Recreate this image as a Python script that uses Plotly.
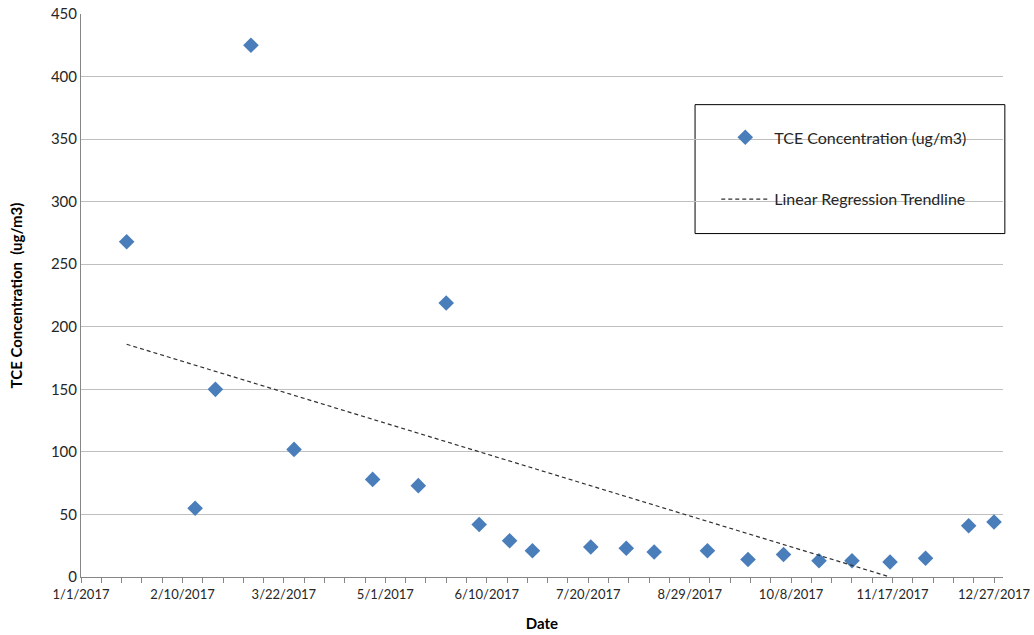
import plotly.graph_objects as go

dates = ["2017-01-19", "2017-02-15", "2017-02-23", "2017-03-09", "2017-03-26",
         "2017-04-26", "2017-05-14", "2017-05-25", "2017-06-07", "2017-06-19",
         "2017-06-28", "2017-07-21", "2017-08-04", "2017-08-15", "2017-09-05",
         "2017-09-21", "2017-10-05", "2017-10-19", "2017-11-01", "2017-11-16",
         "2017-11-30", "2017-12-17", "2017-12-27"]
tce = [268, 55, 150, 425, 102, 78, 73, 219, 42, 29, 21, 24, 23, 20, 21,
       14, 18, 13, 13, 12, 15, 41, 44]

trend_dates = ["2017-01-19", "2017-11-16"]
trend_values = [186, 0]

series_name = "TCE Concentration (ug/m3)"
trend_name = "Linear Regression Trendline"

fig = go.Figure()
fig.add_trace(go.Scatter(
    x=dates, y=tce, mode="markers", name=series_name, legendgroup="a",
    marker=dict(symbol="diamond", size=12, color="#4a7ebb"),
    cliponaxis=False,
))
fig.add_trace(go.Scatter(
    x=trend_dates, y=trend_values, mode="lines", name=trend_name, legendgroup="b",
    line=dict(color="#303030", width=1.2, dash="4px,3px"),
))

grid = "#bfbfbf"
DAY = 86400000
fig.update_layout(
    width=1034, height=635,
    margin=dict(l=81, r=31, t=14, b=58, autoexpand=False),
    paper_bgcolor="white", plot_bgcolor="white",
    font=dict(family="Lato, sans-serif", color="#262626"),
    showlegend=True,
    legend=dict(
        x=0.689, y=0.811, xanchor="left", yanchor="top",
        bgcolor="rgba(0,0,0,0)", borderwidth=0, itemwidth=48,
        font=dict(size=16, color="#262626"),
        traceorder="grouped", tracegroupgap=38,
    ),
    shapes=[dict(type="rect", xref="paper", yref="paper",
                 x0=0.666, x1=1.002, y0=0.610, y1=0.839,
                 line=dict(color="#000000", width=1), fillcolor="white", layer="below")],
)
fig.update_xaxes(
    type="date", range=["2017-01-01", "2017-12-30 13:00"], automargin=False,
    tick0="2017-01-01", dtick=40 * DAY, tickformat="%-m/%-d/%Y",
    ticks="outside", ticklen=5, tickcolor="#868686",
    showline=True, linecolor="#868686", linewidth=1,
    showgrid=False, zeroline=False,
    tickfont=dict(size=13, color="#262626"),
    minor=dict(ticks="outside", ticklen=5, tickcolor="#868686", dtick=8 * DAY, tick0="2017-01-01"),
    title=dict(text="<b>Date</b>", font=dict(size=15, color="#000000"), standoff=17),
)
fig.update_yaxes(
    range=[0, 450], dtick=50, tick0=0, automargin=False,
    showline=True, linecolor="#868686", linewidth=1,
    showgrid=True, gridcolor=grid, gridwidth=1, zeroline=False,
    ticks="", tickfont=dict(size=15, color="#262626"),
    title=dict(text="<b>TCE Concentration  (ug/m3)</b>", font=dict(size=15, color="#000000"), standoff=24),
)

fig.write_html("out.html")
